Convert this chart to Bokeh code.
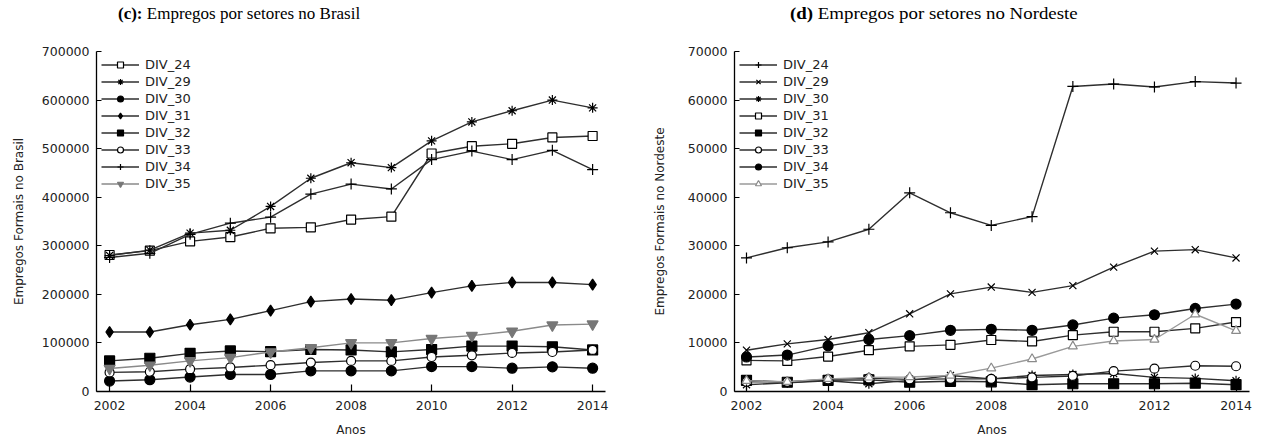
from bokeh.plotting import figure
from bokeh.models import Range1d, FixedTicker, BasicTickFormatter, Div, Legend, LegendItem
from bokeh.layouts import row, column
from bokeh.embed import file_html
from bokeh.resources import INLINE

years = [2002, 2003, 2004, 2005, 2006, 2007, 2008, 2009, 2010, 2011, 2012, 2013, 2014]
series_names = ["DIV_24", "DIV_29", "DIV_30", "DIV_31", "DIV_32", "DIV_33", "DIV_34", "DIV_35"]
x_ticks = [2002, 2004, 2006, 2008, 2010, 2012, 2014]
br_y_ticks = [0, 100000, 200000, 300000, 400000, 500000, 600000, 700000]
ne_y_ticks = [0, 10000, 20000, 30000, 40000, 50000, 60000, 70000]

# (c) Brasil
br_div24 = [281000, 290000, 309000, 318000, 336000, 338000, 354000, 360000, 490000, 505000, 510000, 523000, 526000]
br_div29 = [280000, 291000, 326000, 332000, 381000, 439000, 471000, 461000, 516000, 555000, 578000, 600000, 584000]
br_div30 = [21500, 24300, 29800, 35100, 35100, 42500, 42500, 42500, 51300, 51300, 48000, 50700, 48000]
br_div31 = [122500, 122500, 137500, 148500, 166500, 185000, 190500, 188000, 203500, 217500, 224500, 224500, 220000]
br_div32 = [63000, 68500, 78500, 83500, 82000, 86500, 85500, 81500, 86500, 93500, 93500, 92000, 85500]
br_div33 = [39300, 40700, 46000, 49500, 54100, 59600, 63000, 63000, 71000, 74500, 79300, 81300, 85500]
br_div34 = [276000, 284500, 323500, 346500, 359000, 406500, 427000, 417000, 477500, 495000, 477500, 496500, 457000]
br_div35 = [47400, 54100, 63000, 69800, 81300, 90000, 100200, 100200, 109000, 115100, 124000, 136800, 138800]

# (d) Nordeste
ne_div24 = [27500, 29600, 30800, 33400, 40900, 36800, 34200, 36000, 62800, 63300, 62700, 63800, 63500]
ne_div29 = [8500, 9800, 10700, 12100, 16000, 20100, 21500, 20400, 21800, 25600, 28900, 29200, 27500]
ne_div30 = [1400, 1800, 2200, 1600, 2300, 3300, 2600, 3300, 3500, 3700, 2900, 2700, 2200]
ne_div31 = [6400, 6300, 7200, 8500, 9300, 9600, 10600, 10300, 11600, 12300, 12300, 13000, 14300]
ne_div32 = [2300, 1900, 2300, 2400, 1900, 2100, 2000, 1400, 1600, 1600, 1600, 1700, 1400]
ne_div33 = [2000, 2000, 2500, 2700, 2500, 2600, 2600, 2900, 3200, 4200, 4700, 5300, 5200]
ne_div34 = [7100, 7500, 9400, 10700, 11500, 12600, 12800, 12600, 13700, 15100, 15800, 17100, 18000]
ne_div35 = [2200, 2000, 2600, 2900, 3000, 3300, 4800, 6700, 9300, 10400, 10700, 15900, 12500]

br_series = [br_div24, br_div29, br_div30, br_div31, br_div32, br_div33, br_div34, br_div35]
ne_series = [ne_div24, ne_div29, ne_div30, ne_div31, ne_div32, ne_div33, ne_div34, ne_div35]

DARK = "#2e2e2e"
GRAY = "#8a8a8a"
# marker, fill, size, line color, marker outline colour
br_styles = [
    ("square", "white", 9, DARK, "black"),
    ("asterisk", "black", 10, DARK, "black"),
    ("circle", "black", 10, DARK, "black"),
    ("diamond", "black", 11, DARK, "black"),
    ("square", "black", 10, DARK, "black"),
    ("circle", "white", 9, DARK, "black"),
    ("cross", "black", 11, DARK, "black"),
    ("inverted_triangle", "#777777", 11, GRAY, "#777777"),
]
ne_styles = [
    ("cross", "black", 11, DARK, "black"),
    ("x", "black", 10, DARK, "black"),
    ("asterisk", "black", 10, DARK, "black"),
    ("square", "white", 9, DARK, "black"),
    ("square", "black", 10, DARK, "black"),
    ("circle", "white", 9, DARK, "black"),
    ("circle", "black", 10, DARK, "black"),
    ("triangle", "white", 9, "#9a9a9a", "#8a8a8a"),
]

FONT = "DejaVu Sans"
TITLE_H = 29
FIG_H = 411


def make_panel(series, styles, y_ticks, ylabel, x0, x1, width, border_left, border_right, label_standoff):
    p = figure(width=width, height=FIG_H, output_backend="svg", toolbar_location=None,
               x_range=Range1d(x0, x1), y_range=Range1d(y_ticks[0], y_ticks[-1]),
               min_border_left=border_left, min_border_right=border_right,
               min_border_top=22, min_border_bottom=49)
    p.outline_line_color = None
    p.xgrid.grid_line_color = None
    p.ygrid.grid_line_color = None
    p.background_fill_color = "white"
    p.border_fill_color = "white"

    p.xaxis.ticker = FixedTicker(ticks=x_ticks)
    p.yaxis.ticker = FixedTicker(ticks=y_ticks)
    p.yaxis.formatter = BasicTickFormatter(use_scientific=False)
    for ax in (p.xaxis[0], p.yaxis[0]):
        ax.axis_line_color = "black"
        ax.axis_line_width = 1.3
        ax.major_tick_line_color = "black"
        ax.major_tick_line_width = 1.2
        ax.major_tick_out = 0
        ax.minor_tick_line_color = None
        ax.major_label_text_font = FONT
        ax.major_label_text_font_size = "12.5px"
        ax.major_label_text_color = "#222222"
        ax.axis_label_text_font = FONT
        ax.axis_label_text_font_size = "12px"
        ax.axis_label_text_font_style = "normal"
        ax.axis_label_text_color = "#222222"
    p.xaxis.major_tick_in = 7
    p.yaxis.major_tick_in = 5
    p.xaxis.major_label_standoff = 9
    p.yaxis.major_label_standoff = 7
    p.xaxis.axis_label = "Anos"
    p.xaxis.axis_label_standoff = 10
    p.yaxis.axis_label = ylabel
    p.yaxis.axis_label_standoff = label_standoff

    items = []
    for name, vals, (mk, fill, size, lcol, mcol) in zip(series_names, series, styles):
        lr = p.line(years, vals, line_color=lcol, line_width=1.4)
        sr = p.scatter(years, vals, marker=mk, size=size, fill_color=fill,
                       line_color=mcol, line_width=1.2)
        items.append(LegendItem(label=name, renderers=[lr, sr]))

    legend = Legend(items=items, location=(5, 200), orientation="vertical",
                    label_text_font=FONT, label_text_font_size="13px",
                    label_text_color="#222222",
                    label_standoff=6, glyph_width=38, glyph_height=15,
                    label_height=15, spacing=2, padding=0, margin=0,
                    border_line_color=None, background_fill_alpha=0)
    p.add_layout(legend)
    return p


p1 = make_panel(br_series, br_styles, br_y_ticks, "Empregos Formais no Brasil",
                2001.675, 2014.32, 648, 96, 43, 13)
p2 = make_panel(ne_series, ne_styles, ne_y_ticks, "Empregos Formais no Nordeste",
                2001.706, 2014.33, 610, 86, 9, 18)

title_style = ("margin:0; padding-top:4px; font-family:'Liberation Serif'; font-size:17px; "
               "line-height:20px; color:black; white-space:nowrap;")
t1 = Div(text=f'<div style="{title_style}"><span style="display:inline-block; margin-left:118px; transform:scaleX(1.0); transform-origin:0 0;"><b>(c):</b> Empregos por setores no Brasil</span></div>',
         width=648, height=TITLE_H, margin=0)
t2 = Div(text=f'<div style="{title_style}"><span style="display:inline-block; margin-left:142px; transform:scaleX(1.11); transform-origin:0 0;"><b>(d)</b> Empregos por setores no Nordeste</span></div>',
         width=610, height=TITLE_H, margin=0)

layout = column(row(t1, t2, spacing=0), row(p1, p2, spacing=0), spacing=0)

open("out.html", "w").write(file_html(layout, INLINE))
